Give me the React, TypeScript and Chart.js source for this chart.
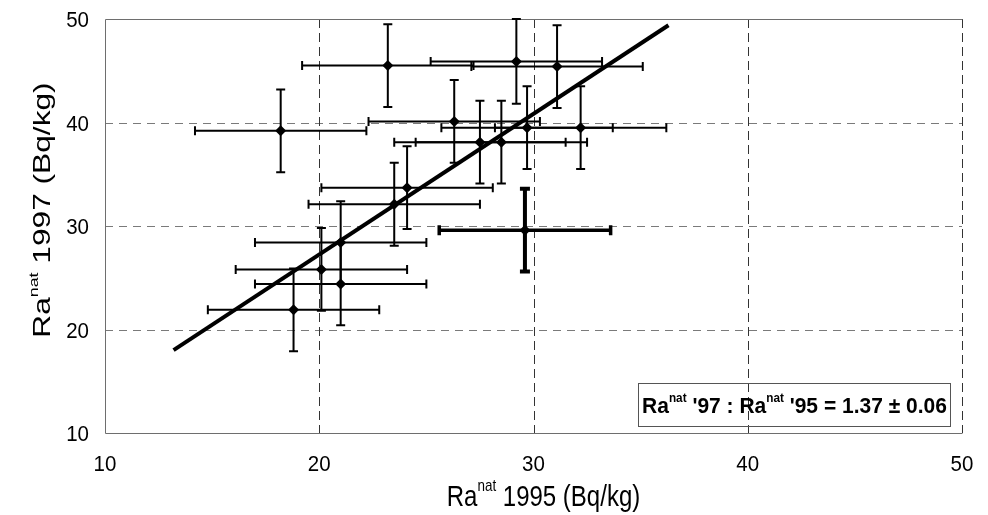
import React, { useEffect, useRef } from "react";
import { Chart, registerables } from "chart.js";

Chart.register(...registerables);

// ---- data ----
const xValues = [23.2, 31.1, 29.2, 18.2, 26.3, 27.5, 28.5, 29.7, 32.2, 24.1, 23.5, 21.0, 21.0, 20.1, 18.8, 29.6];
const yValues = [45.5, 45.4, 45.9, 39.2, 40.1, 38.1, 38.1, 39.5, 39.5, 33.7, 32.1, 28.4, 24.4, 25.8, 21.9, 29.6];
const xErrors = [4.0, 4.0, 4.0, 4.0, 4.0, 4.0, 4.0, 4.0, 4.0, 4.0, 4.0, 4.0, 4.0, 4.0, 4.0, 4.0];
const yErrors = [4.0, 4.0, 4.1, 4.0, 4.0, 4.0, 4.0, 4.0, 4.0, 4.0, 4.0, 4.0, 4.0, 4.0, 4.0, 4.0];
const highlightedPoints = [15];
const fitX = [13.2, 36.3];
const fitY = [18.0, 49.4];
const xTicks = [10, 20, 30, 40, 50];
const yTicks = [10, 20, 30, 40, 50];
const xTitle = [{ text: "Ra" }, { text: "nat", sup: true }, { text: " 1995 (Bq/kg)" }];
const yTitle = [{ text: "Ra" }, { text: "nat", sup: true }, { text: " 1997 (Bq/kg)" }];
const ratioLabel = [
  { text: "Ra" }, { text: "nat", sup: true }, { text: " '97 : Ra" },
  { text: "nat", sup: true }, { text: " '95 = 1.37 \u00b1 0.06" },
];

type Part = { text: string; sup?: boolean };
type TextOpts = {
  size: number; bold?: boolean; sx?: number; sy?: number;
  rotate?: boolean; align?: "left" | "center" | "right";
};

const FAMILY = '"Liberation Sans", Arial, Helvetica, sans-serif';

function drawRich(ctx: CanvasRenderingContext2D, parts: Part[], cx: number, cy: number, o: TextOpts) {
  const weight = o.bold ? "bold " : "";
  const supSize = o.size * 0.56;
  const font = (sup?: boolean) => `${weight}${sup ? supSize : o.size}px ${FAMILY}`;
  ctx.save();
  ctx.translate(cx, cy);
  if (o.rotate) ctx.rotate(-Math.PI / 2);
  ctx.scale(o.sx ?? 1, o.sy ?? 1);
  let total = 0;
  const widths = parts.map((p) => {
    ctx.font = font(p.sup);
    const w = ctx.measureText(p.text).width;
    total += w;
    return w;
  });
  const align = o.align ?? "center";
  let xPos = align === "center" ? -total / 2 : align === "right" ? -total : 0;
  const base = (o.size * 0.716) / 2;
  ctx.fillStyle = "#000";
  ctx.textAlign = "left";
  ctx.textBaseline = "alphabetic";
  parts.forEach((p, i) => {
    ctx.font = font(p.sup);
    ctx.fillText(p.text, xPos, p.sup ? base - o.size * 0.5 : base);
    xPos += widths[i];
  });
  ctx.restore();
  return total;
}

const decorPlugin = {
  id: "decor",
  beforeDatasetsDraw(chart: any) {
    const { ctx, chartArea: a, scales } = chart;
    const xs = scales.x;
    const ys = scales.y;
    const r = (v: number) => Math.round(v) + 0.5;
    ctx.save();
    // horizontal dashed grid lines
    ctx.lineWidth = 1;
    ctx.strokeStyle = "#7a7a7a";
    ctx.setLineDash([8, 6]);
    yTicks.forEach((v) => {
      if (v <= ys.min || v >= ys.max) return;
      const py = r(ys.getPixelForValue(v));
      ctx.beginPath();
      ctx.moveTo(a.left, py);
      ctx.lineTo(a.right, py);
      ctx.stroke();
    });
    // vertical dashed grid lines
    ctx.strokeStyle = "#333";
    ctx.setLineDash([9, 5]);
    xTicks.forEach((v) => {
      if (v <= xs.min) return;
      const px = r(xs.getPixelForValue(v));
      ctx.beginPath();
      ctx.moveTo(px, a.top);
      ctx.lineTo(px, a.bottom);
      ctx.stroke();
    });
    // frame (left, top, bottom)
    ctx.setLineDash([]);
    ctx.strokeStyle = "#6e6e6e";
    ctx.beginPath();
    ctx.moveTo(r(a.right), r(a.top));
    ctx.lineTo(r(a.left), r(a.top));
    ctx.lineTo(r(a.left), r(a.bottom));
    ctx.lineTo(r(a.right), r(a.bottom));
    ctx.stroke();

    // error bars
    ctx.strokeStyle = "#000";
    xValues.forEach((xv, i) => {
      const heavy = highlightedPoints.includes(i);
      const yv = yValues[i];
      const px = xs.getPixelForValue(xv);
      const py = ys.getPixelForValue(yv);
      const x0 = xs.getPixelForValue(xv - xErrors[i]);
      const x1 = xs.getPixelForValue(xv + xErrors[i]);
      const y0 = ys.getPixelForValue(yv - yErrors[i]);
      const y1 = ys.getPixelForValue(yv + yErrors[i]);
      const cap = heavy ? 5 : 4.5;
      // horizontal
      ctx.lineWidth = heavy ? 3.5 : 2;
      ctx.beginPath();
      ctx.moveTo(x0, py);
      ctx.lineTo(x1, py);
      ctx.moveTo(x0, py - cap);
      ctx.lineTo(x0, py + cap);
      ctx.moveTo(x1, py - cap);
      ctx.lineTo(x1, py + cap);
      ctx.stroke();
      // vertical
      ctx.lineWidth = heavy ? 4 : 2;
      ctx.beginPath();
      ctx.moveTo(px, y0);
      ctx.lineTo(px, y1);
      ctx.moveTo(px - cap, y0);
      ctx.lineTo(px + cap, y0);
      ctx.moveTo(px - cap, y1);
      ctx.lineTo(px + cap, y1);
      ctx.stroke();
    });
    ctx.restore();
  },
  afterDraw(chart: any) {
    const { ctx, chartArea: a, scales } = chart;
    const xs = scales.x;
    const ys = scales.y;
    // tick labels
    xTicks.forEach((v) => {
      drawRich(ctx, [{ text: String(v) }], xs.getPixelForValue(v), a.bottom + 30, { size: 20.5, sy: 1.12 });
    });
    yTicks.forEach((v) => {
      drawRich(ctx, [{ text: String(v) }], a.left - 16, ys.getPixelForValue(v), { size: 20.5, sy: 1.12, align: "right" });
    });
    // axis titles
    drawRich(ctx, xTitle, (a.left + a.right) / 2 + 10, 495, { size: 24, sy: 1.25 });
    drawRich(ctx, yTitle, 41.5, 210, { size: 24, sx: 1.32, rotate: true });
    // ratio box
    ctx.save();
    ctx.font = `bold 21px ${FAMILY}`;
    const boxL = 638.5, boxT = 383.5, boxR = 950.5, boxB = 426.5;
    ctx.strokeStyle = "#555";
    ctx.lineWidth = 1;
    ctx.strokeRect(boxL, boxT, boxR - boxL, boxB - boxT);
    ctx.restore();
    drawRich(ctx, ratioLabel, (boxL + boxR) / 2, 405, { size: 21, bold: true, sy: 1.05 });
  },
};

export default function App() {
  const ref = useRef<HTMLCanvasElement | null>(null);
  useEffect(() => {
    if (!ref.current) return;
    const chart = new Chart(ref.current, {
      type: "scatter",
      data: {
        datasets: [
          {
            data: xValues.map((x, i) => ({ x, y: yValues[i] })),
            pointStyle: "rectRot",
            pointRadius: 5.5,
            pointBackgroundColor: "#000",
            pointBorderColor: "#000",
            pointBorderWidth: 0,
            showLine: false,
          },
          {
            data: fitX.map((x, i) => ({ x, y: fitY[i] })),
            showLine: true,
            borderColor: "#000",
            borderWidth: 4,
            pointRadius: 0,
            fill: false,
          },
        ],
      } as any,
      options: {
        responsive: false,
        animation: false,
        devicePixelRatio: 1,
        layout: { padding: { left: 0, right: 26, top: 19, bottom: 0 } },
        plugins: { legend: { display: false }, tooltip: { enabled: false } },
        scales: {
          x: {
            type: "linear",
            min: 10,
            max: 50,
            ticks: { display: false, stepSize: 10 },
            grid: { display: false },
            border: { display: false },
            afterFit: (s: any) => { s.height = 82; },
          },
          y: {
            type: "linear",
            min: 10,
            max: 50,
            ticks: { display: false, stepSize: 10 },
            grid: { display: false },
            border: { display: false },
            afterFit: (s: any) => { s.width = 105; },
          },
        },
      } as any,
      plugins: [decorPlugin],
    });
    return () => chart.destroy();
  }, []);
  return (
    <div style={{ position: "absolute", left: 0, top: 0, width: 988, height: 515, background: "#fff" }}>
      <canvas ref={ref} width={988} height={515} />
    </div>
  );
}
